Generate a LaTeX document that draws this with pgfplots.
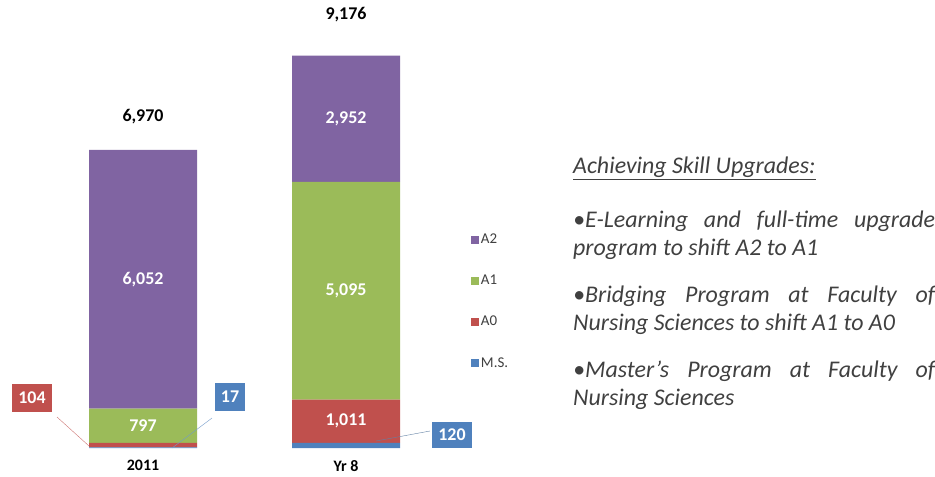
\documentclass[border=0pt]{standalone}
\usepackage{fontspec}
\setmainfont{Carlito}
\usepackage{pgfplots}
\pgfplotsset{compat=1.18}
\definecolor{cA2}{HTML}{8064A2}
\definecolor{cA1}{HTML}{9BBB59}
\definecolor{cA0}{HTML}{C0504D}
\definecolor{cMS}{HTML}{4F81BD}
\definecolor{txt}{HTML}{404040}
\begin{document}
\begin{tikzpicture}
\path[use as bounding box] (0,0) rectangle (935bp,-477bp);
\begin{axis}[
  at={(41.5bp,-448bp)}, anchor=south west,
  scale only axis, width=406bp, height=392.4bp,
  xmin=-0.5, xmax=1.5, ymin=0, ymax=9176,
  ybar stacked, bar width=108bp,
  axis line style={draw=none}, major tick style={draw=none},
  xtick={0,1}, xticklabels={2011,Yr 8}, ytick=\empty,
  x tick label style={font=\fontsize{16}{18}\selectfont\bfseries, text=black, yshift=-9bp},
  clip=false,
  nodes near coords, point meta=explicit symbolic,
  every node near coord/.append style={font=\fontsize{18}{20}\selectfont\bfseries, text=white},
  reverse legend,
  legend style={at={(1.05,0.556)}, anchor=north west, draw=none,
    font=\fontsize{15}{17}\selectfont, text=txt, row sep=26bp,
    legend cell align=left},
  legend image code/.code={\fill[#1] (0bp,-4bp) rectangle (8bp,4bp);},
]
\addplot[fill=cMS, draw=none] coordinates {(0,17) [] (1,120) []};
\addplot[fill=cA0, draw=none] coordinates {(0,104) [] (1,1011) [1,011]};
\addplot[fill=cA1, draw=none] coordinates {(0,797) [797] (1,5095) [5,095]};
\addplot[fill=cA2, draw=none] coordinates {(0,6052) [6,052] (1,2952) [2,952]};
\legend{M.S.,A0,A1,A2}
\end{axis}
\node[font=\fontsize{18}{20}\selectfont\bfseries] at (143bp,-117bp) {6,970};
\node[font=\fontsize{18}{20}\selectfont\bfseries] at (346bp,-15bp) {9,176};
\draw[cA0!80] (57bp,-417bp) -- (89bp,-446bp);
\node[fill=cA0, text=white, font=\fontsize{18}{20}\selectfont\bfseries, minimum width=40bp, minimum height=28bp, inner sep=0] at (32bp,-398bp) {104};
\draw[cMS!80] (172bp,-448bp) -- (212bp,-418bp);
\node[fill=cMS, text=white, font=\fontsize{18}{20}\selectfont\bfseries, minimum width=30bp, minimum height=28bp, inner sep=0] at (230bp,-397bp) {17};
\draw[cMS!60!gray] (376bp,-441bp) -- (430bp,-431bp);
\node[fill=cMS, text=white, font=\fontsize{18}{20}\selectfont\bfseries, minimum width=40bp, minimum height=26bp, inner sep=0] at (452bp,-435bp) {120};
\node[anchor=north west, text width=362bp, align=justify, inner sep=0,
  font=\fontsize{24}{28}\selectfont\itshape, text=txt] at (573bp,-157bp)
  {\hyphenpenalty=10000\relax\exhyphenpenalty=10000\relax
   \underline{Achieving Skill Upgrades:}\par\vspace{26bp}
   •E-Learning and full-time upgrade program to shift A2 to A1\par\vspace{19bp}
   •Bridging Program at Faculty of Nursing Sciences to shift A1 to A0\par\vspace{19bp}
   •Master’s Program at Faculty of Nursing Sciences\par};
\end{tikzpicture}
\end{document}
